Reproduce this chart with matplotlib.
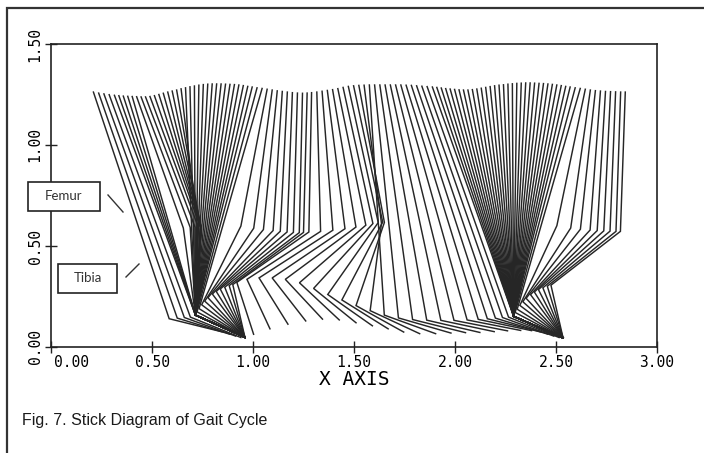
import matplotlib.pyplot as plt
import numpy as np
from matplotlib.patches import Rectangle
from matplotlib.lines import Line2D
from matplotlib.transforms import ScaledTranslation

# joint positions for every frame of the gait cycle (plot units)
hip_x = [0.210, 0.236, 0.262, 0.288,
         0.314, 0.336, 0.358, 0.380, 0.402, 0.424, 0.446, 0.468, 0.490, 0.512, 0.534,
         0.556, 0.578, 0.600, 0.622, 0.644, 0.666, 0.688, 0.710, 0.732, 0.754, 0.776,
         0.798, 0.820, 0.842, 0.864, 0.886, 0.908, 0.930, 0.952, 0.974, 0.996,
         1.020, 1.045, 1.070, 1.095, 1.120, 1.145, 1.170, 1.195, 1.220, 1.245, 1.268,
         1.290, 1.316, 1.342, 1.368, 1.394, 1.420, 1.446, 1.472, 1.498, 1.524, 1.550,
         1.576, 1.602, 1.628, 1.654, 1.680, 1.706, 1.732, 1.758, 1.784, 1.810, 1.836, 1.862,
         1.888, 1.910, 1.932, 1.954, 1.976, 1.998, 2.020, 2.042, 2.064, 2.086, 2.108,
         2.130, 2.152, 2.174, 2.196, 2.218, 2.240, 2.262, 2.284, 2.306, 2.328, 2.350,
         2.372, 2.394, 2.416, 2.438, 2.460, 2.482, 2.504, 2.526, 2.548, 2.570,
         2.595, 2.620, 2.645, 2.670, 2.695, 2.720, 2.745, 2.770, 2.795, 2.820, 2.843]
hip_y = [1.262, 1.257, 1.253, 1.249,
         1.246, 1.244, 1.242, 1.241, 1.240, 1.239, 1.238, 1.238, 1.240, 1.244, 1.250,
         1.256, 1.262, 1.267, 1.272, 1.278, 1.283, 1.288, 1.292, 1.296, 1.299, 1.301,
         1.302, 1.302, 1.302, 1.301, 1.300, 1.299, 1.297, 1.294, 1.290, 1.287,
         1.283, 1.280, 1.276, 1.272, 1.268, 1.265, 1.262, 1.259, 1.257, 1.256, 1.257,
         1.259, 1.262, 1.266, 1.270, 1.274, 1.279, 1.285, 1.290, 1.293, 1.295, 1.296,
         1.297, 1.297, 1.297, 1.297, 1.297, 1.297, 1.297, 1.296, 1.295, 1.293, 1.291, 1.289,
         1.287, 1.285, 1.282, 1.279, 1.277, 1.275, 1.273, 1.272, 1.272, 1.274, 1.277,
         1.281, 1.285, 1.289, 1.293, 1.296, 1.298, 1.301, 1.303, 1.305, 1.306, 1.307,
         1.307, 1.306, 1.305, 1.304, 1.302, 1.300, 1.297, 1.294, 1.290, 1.287,
         1.283, 1.280, 1.276, 1.272, 1.269, 1.267, 1.265, 1.264, 1.263, 1.262, 1.262]
ankle_x = [0.585, 0.625, 0.660, 0.690,
           0.715, 0.715, 0.715, 0.715, 0.715, 0.715, 0.715, 0.715, 0.715, 0.715, 0.715,
           0.715, 0.715, 0.715, 0.715, 0.715, 0.715, 0.715, 0.715, 0.715, 0.715, 0.715,
           0.715, 0.715, 0.715, 0.715, 0.715, 0.715, 0.715, 0.715, 0.715, 0.715,
           0.723, 0.733, 0.746, 0.761, 0.777, 0.799, 0.818, 0.838, 0.860, 0.882, 0.900,
           0.920, 0.970, 1.030, 1.095, 1.160, 1.230, 1.300, 1.370, 1.440, 1.510, 1.580,
           1.650, 1.720, 1.790, 1.860, 1.930, 1.995, 2.060, 2.115, 2.160, 2.200, 2.235, 2.265,
           2.290, 2.290, 2.290, 2.290, 2.290, 2.290, 2.290, 2.290, 2.290, 2.290, 2.290,
           2.290, 2.290, 2.290, 2.290, 2.290, 2.290, 2.290, 2.290, 2.290, 2.290, 2.290,
           2.290, 2.290, 2.290, 2.290, 2.290, 2.290, 2.290, 2.290, 2.290, 2.290,
           2.298, 2.308, 2.321, 2.336, 2.352, 2.374, 2.393, 2.413, 2.435, 2.457, 2.475]
ankle_y = [0.140, 0.143, 0.146, 0.148,
           0.158, 0.158, 0.158, 0.158, 0.158, 0.158, 0.158, 0.158, 0.158, 0.158, 0.158,
           0.158, 0.158, 0.158, 0.158, 0.158, 0.158, 0.158, 0.158, 0.158, 0.158, 0.158,
           0.158, 0.158, 0.158, 0.158, 0.158, 0.158, 0.158, 0.158, 0.158, 0.158,
           0.174, 0.190, 0.209, 0.227, 0.244, 0.262, 0.275, 0.287, 0.296, 0.304, 0.309,
           0.320, 0.335, 0.342, 0.342, 0.335, 0.318, 0.290, 0.260, 0.233, 0.205, 0.180,
           0.158, 0.144, 0.136, 0.133, 0.132, 0.132, 0.134, 0.137, 0.140, 0.143, 0.146, 0.148,
           0.152, 0.152, 0.152, 0.152, 0.152, 0.152, 0.152, 0.152, 0.152, 0.152, 0.152,
           0.152, 0.152, 0.152, 0.152, 0.152, 0.152, 0.152, 0.152, 0.152, 0.152, 0.152,
           0.152, 0.152, 0.152, 0.152, 0.152, 0.152, 0.152, 0.152, 0.152, 0.152,
           0.171, 0.187, 0.206, 0.224, 0.241, 0.259, 0.272, 0.284, 0.293, 0.301, 0.306]
toe_x = [0.847, 0.883, 0.914, 0.940,
         0.960, 0.960, 0.960, 0.960, 0.960, 0.960, 0.960, 0.960, 0.960, 0.960, 0.960,
         0.960, 0.960, 0.960, 0.960, 0.960, 0.960, 0.960, 0.960, 0.960, 0.960, 0.960,
         0.960, 0.960, 0.960, 0.960, 0.960, 0.960, 0.960, 0.960, 0.960, 0.960,
         0.960, 0.960, 0.960, 0.960, 0.960, 0.960, 0.960, 0.960, 0.960, 0.960, 0.960,
         1.003, 1.084, 1.173, 1.261, 1.344, 1.427, 1.510, 1.591, 1.669, 1.746, 1.825,
         1.904, 1.980, 2.052, 2.123, 2.194, 2.260, 2.325, 2.379, 2.422, 2.458, 2.489, 2.515,
         2.535, 2.535, 2.535, 2.535, 2.535, 2.535, 2.535, 2.535, 2.535, 2.535, 2.535,
         2.535, 2.535, 2.535, 2.535, 2.535, 2.535, 2.535, 2.535, 2.535, 2.535, 2.535,
         2.535, 2.535, 2.535, 2.535, 2.535, 2.535, 2.535, 2.535, 2.535, 2.535,
         2.535, 2.535, 2.535, 2.535, 2.535, 2.535, 2.535, 2.535, 2.535, 2.535, 2.535]
toe_y = [0.075, 0.064, 0.054, 0.047,
         0.048, 0.048, 0.048, 0.048, 0.048, 0.048, 0.048, 0.048, 0.048, 0.048, 0.048,
         0.048, 0.048, 0.048, 0.048, 0.048, 0.048, 0.048, 0.048, 0.048, 0.048, 0.048,
         0.048, 0.048, 0.048, 0.048, 0.048, 0.048, 0.048, 0.048, 0.048, 0.048,
         0.048, 0.048, 0.048, 0.048, 0.048, 0.048, 0.048, 0.048, 0.048, 0.048, 0.048,
         0.063, 0.090, 0.113, 0.129, 0.138, 0.134, 0.120, 0.105, 0.090, 0.074, 0.066,
         0.066, 0.069, 0.071, 0.072, 0.076, 0.080, 0.082, 0.081, 0.075, 0.064, 0.054, 0.047,
         0.045, 0.045, 0.045, 0.045, 0.045, 0.045, 0.045, 0.045, 0.045, 0.045, 0.045,
         0.045, 0.045, 0.045, 0.045, 0.045, 0.045, 0.045, 0.045, 0.045, 0.045, 0.045,
         0.045, 0.045, 0.045, 0.045, 0.045, 0.045, 0.045, 0.045, 0.045, 0.045,
         0.045, 0.045, 0.045, 0.045, 0.045, 0.045, 0.045, 0.045, 0.045, 0.045, 0.045]

femur_len = 0.69
tibia_len = 0.435

x_ticks = [0.0, 0.5, 1.0, 1.5, 2.0, 2.5, 3.0]
y_ticks = [0.0, 0.5, 1.0, 1.5]
caption = "Fig. 7. Stick Diagram of Gait Cycle"


def knee_point(hx, hy, axx, ayy):
    # knee from hip and ankle, bending forward
    dx, dy = axx - hx, ayy - hy
    d = np.hypot(dx, dy)
    ux, uy = dx / d, dy / d
    if d >= femur_len + tibia_len:
        return hx + ux * femur_len, hy + uy * femur_len
    a = (femur_len ** 2 - tibia_len ** 2 + d ** 2) / (2 * d)
    h = np.sqrt(max(femur_len ** 2 - a ** 2, 0.0))
    return hx + a * ux - h * uy, hy + a * uy + h * ux


W, H = 704, 453
fig = plt.figure(figsize=(W / 100, H / 100), dpi=100)
ax = fig.add_axes([51 / W, 1 - 347 / H, 606 / W, 303 / H])

ink = '#262626'
for i in range(len(hip_x)):
    kx, ky = knee_point(hip_x[i], hip_y[i], ankle_x[i], ankle_y[i])
    ax.plot([hip_x[i], kx, ankle_x[i], toe_x[i]],
            [hip_y[i], ky, ankle_y[i], toe_y[i]],
            color=ink, lw=1.05, solid_joinstyle='miter')

ax.set_xlim(0, 3)
ax.set_ylim(0, 1.5)
ax.set_xticks(x_ticks)
ax.set_xticklabels([f"{t:.2f}" for t in x_ticks], family='DejaVu Sans Mono', fontsize=10.5)
ax.set_yticks(y_ticks)
ax.set_yticklabels([f"{t:.2f}" for t in y_ticks], family='DejaVu Sans Mono', fontsize=10.5,
                   rotation=90, va='center')
ax.tick_params(direction='inout', length=8, width=1.0, color='#222222', pad=2)
ax.set_xlabel('X AXIS', family='DejaVu Sans Mono', fontsize=14, labelpad=0)
for s in ax.spines.values():
    s.set_linewidth(1.2)
    s.set_color('#222222')

# first x label sits to the right of the origin, clear of the rotated y label
first = ax.get_xticklabels()[0]
first.set_ha('left')
first.set_transform(first.get_transform() + ScaledTranslation(2 / 72, 0, fig.dpi_scale_trans))

# outer frame of the scanned figure (only top and left edges visible)
fig.add_artist(Rectangle((7 / W, -0.2), 1.5, 1.2 - 8 / H, transform=fig.transFigure,
                         fill=False, lw=1.6, ec='#333333'))


def px(x, y):
    return x / W, 1 - y / H


# label boxes with pointers
for name, (x0, y0, x1, y1), (p0, p1) in [
        ('Femur', (28, 182, 100, 211), ((108, 195), (123, 212))),
        ('Tibia', (58, 264, 117, 293), ((126, 277), (139, 264)))]:
    bx, by = px(x0, y1)
    fig.add_artist(Rectangle((bx, by), (x1 - x0) / W, (y1 - y0) / H,
                             transform=fig.transFigure, fc='white', ec='#222222', lw=1.2,
                             zorder=5))
    cx, cy = px((x0 + x1) / 2, (y0 + y1) / 2)
    fig.text(cx, cy, name, ha='center', va='center', fontsize=9.5, family='Lato',
             color='#333333', zorder=6)
    a, b = px(*p0), px(*p1)
    fig.add_artist(Line2D([a[0], b[0]], [a[1], b[1]], transform=fig.transFigure,
                          color='#333333', lw=1.0, zorder=5))

fig.text(22 / W, 1 - 420 / H, caption, ha='left', va='center', fontsize=11.5,
         family='Liberation Sans', color='#1a1a1a')

fig.savefig('out.png', dpi=100)
